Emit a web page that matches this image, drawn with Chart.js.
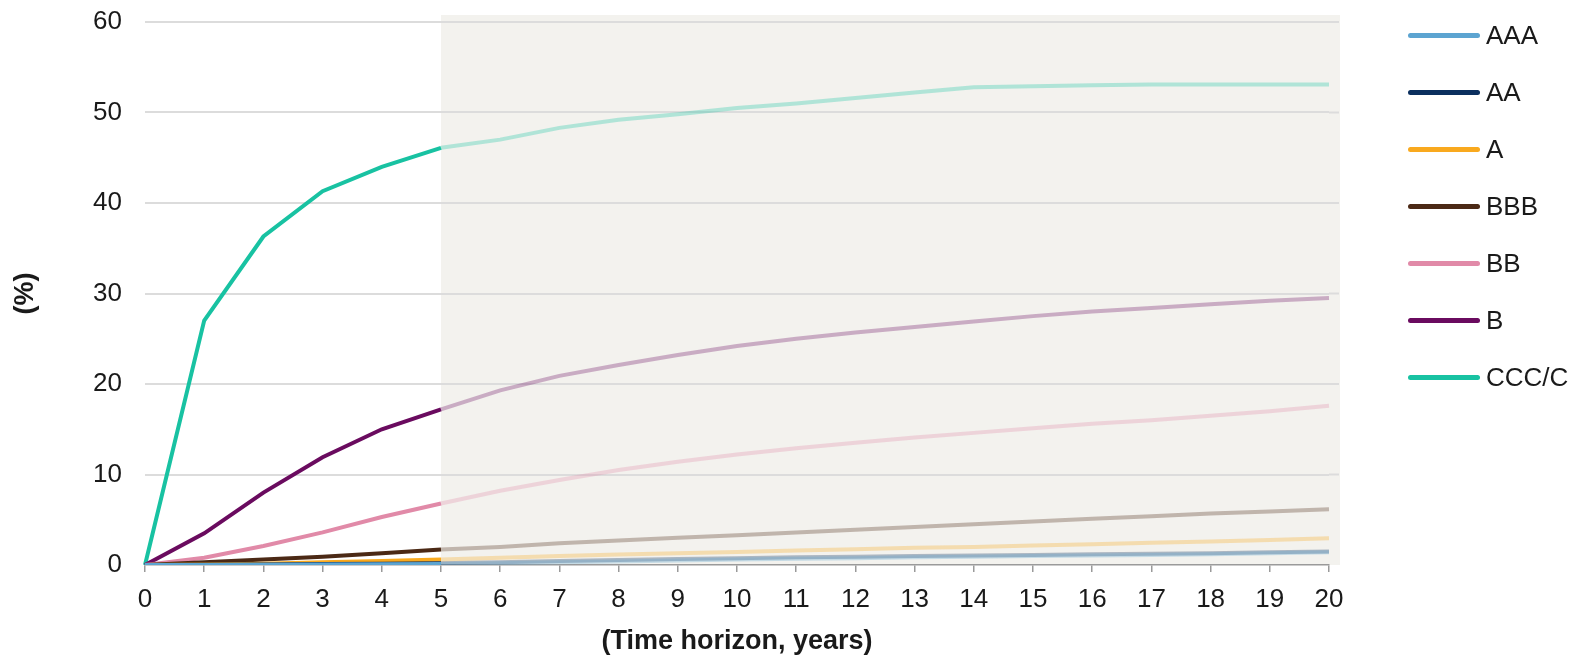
<!DOCTYPE html>
<html>
<head>
<meta charset="utf-8">
<script src="https://cdn.jsdelivr.net/npm/chart.js@4/dist/chart.umd.min.js"></script>
<style>
  body { margin: 0; background: #fff; }
  #wrap { position: relative; width: 1587px; height: 655px; overflow: hidden; }
  #legend { position: absolute; left: 1408px; top: 0; font-family: 'Liberation Sans', Arial, sans-serif; font-size: 26px; color: #1a1a1a; }
  .item { position: absolute; left: 0; height: 30px; display: flex; align-items: center; white-space: nowrap; }
  .swatch { width: 72px; height: 5px; border-radius: 3px; margin-right: 6px; }
</style>
</head>
<body>
<div id="wrap">
  <canvas id="chart" width="1587" height="655"></canvas>
  <div id="legend"></div>
</div>
<script>
const years = ['0','1','2','3','4','5','6','7','8','9','10','11','12','13','14','15','16','17','18','19','20'];
const ratings = ['AAA', 'AA', 'A', 'BBB', 'BB', 'B', 'CCC/C'];

const aaa = [0, 0, 0.03, 0.05, 0.08, 0.1, 0.2, 0.3, 0.4, 0.5, 0.6, 0.7, 0.75, 0.85, 0.9, 1.0, 1.05, 1.1, 1.2, 1.3, 1.4];
const aa = [0, 0.02, 0.05, 0.1, 0.15, 0.2, 0.3, 0.45, 0.55, 0.65, 0.75, 0.85, 0.9, 1.0, 1.05, 1.1, 1.2, 1.25, 1.3, 1.4, 1.5];
const a = [0, 0.05, 0.15, 0.3, 0.45, 0.6, 0.8, 1.0, 1.15, 1.3, 1.45, 1.6, 1.75, 1.9, 2.0, 2.15, 2.3, 2.45, 2.6, 2.75, 2.95];
const bbb = [0, 0.3, 0.6, 0.9, 1.3, 1.7, 2.0, 2.4, 2.7, 3.0, 3.3, 3.6, 3.9, 4.2, 4.5, 4.8, 5.1, 5.4, 5.7, 5.9, 6.15];
const bb = [0, 0.8, 2.1, 3.6, 5.3, 6.8, 8.2, 9.4, 10.5, 11.4, 12.2, 12.9, 13.5, 14.1, 14.6, 15.1, 15.6, 16.0, 16.5, 17.0, 17.6];
const b = [0, 3.5, 8.0, 11.9, 15.0, 17.2, 19.3, 20.9, 22.1, 23.2, 24.2, 25.0, 25.7, 26.3, 26.9, 27.5, 28.0, 28.4, 28.8, 29.2, 29.5];
const ccc = [0, 27.0, 36.3, 41.3, 44.0, 46.1, 47.0, 48.3, 49.2, 49.8, 50.5, 51.0, 51.6, 52.2, 52.8, 52.9, 53.0, 53.1, 53.1, 53.1, 53.1];

const seriesValues = [aaa, aa, a, bbb, bb, b, ccc];
const colors = ['#5ca4d1', '#0b2f5e', '#f9a91e', '#4b2915', '#e18aa8', '#6a0b5f', '#18c2a2'];
const fadeStart = 5;

function fade(hex, alpha) {
    const r = parseInt(hex.slice(1, 3), 16);
    const g = parseInt(hex.slice(3, 5), 16);
    const bl = parseInt(hex.slice(5, 7), 16);
    return `rgba(${r}, ${g}, ${bl}, ${alpha})`;
}

const datasets = ratings.map((name, i) => ({
    label: name,
    data: seriesValues[i],
    borderColor: colors[i],
    borderWidth: 4,
    pointRadius: 0,
    tension: 0,
    fill: false,
    segment: {
        borderColor: ctx => ctx.p0DataIndex >= fadeStart ? fade(colors[i], 0.3) : undefined
    }
}));

// grey background behind the projected part (year 5 onwards)
const shadePlugin = {
    id: 'shade',
    beforeDraw(chart) {
        const { ctx, chartArea, scales } = chart;
        const x0 = scales.x.getPixelForValue(fadeStart);
        ctx.save();
        ctx.fillStyle = '#f3f2ee';
        ctx.fillRect(x0, chartArea.top - 7, chartArea.right + 11 - x0, chartArea.bottom - chartArea.top + 7);
        ctx.restore();
    },
    beforeDatasetsDraw(chart) {
        // gridlines run a little past the last year
        const { ctx, chartArea, scales } = chart;
        ctx.save();
        ctx.strokeStyle = '#dcdcdc';
        ctx.lineWidth = 2;
        scales.y.ticks.forEach(t => {
            if (t.value === 0) return;
            const y = scales.y.getPixelForValue(t.value);
            ctx.beginPath();
            ctx.moveTo(chartArea.right, y);
            ctx.lineTo(chartArea.right + 10, y);
            ctx.stroke();
        });
        ctx.restore();
    }
};

Chart.defaults.font.family = "'Liberation Sans', Arial, sans-serif";
Chart.defaults.color = '#1a1a1a';

new Chart(document.getElementById('chart'), {
    type: 'line',
    data: { labels: years, datasets: datasets },
    options: {
        responsive: false,
        animation: false,
        layout: { padding: { top: 22, right: 258, left: 0, bottom: 0 } },
        plugins: {
            legend: { display: false },
            tooltip: { enabled: false }
        },
        scales: {
            x: {
                afterFit(scale) { scale.height = 90; },
                grid: { drawOnChartArea: false, drawTicks: true, tickLength: 7, color: '#9a9a9a', lineWidth: 1.5 },
                border: { display: true, color: '#9a9a9a', width: 1.5 },
                ticks: { font: { size: 26 }, padding: 12, maxRotation: 0, autoSkip: false },
                title: {
                    display: true,
                    text: '(Time horizon, years)',
                    font: { size: 27, weight: 'bold', lineHeight: 1 },
                    padding: { top: 0, bottom: 0 }
                }
            },
            y: {
                min: 0,
                max: 60,
                afterFit(scale) { scale.width = 145; },
                ticks: { stepSize: 10, font: { size: 26 }, padding: 0 },
                grid: {
                    drawTicks: true,
                    tickLength: 23,
                    tickColor: 'rgba(0,0,0,0)',
                    color: ctx => ctx.tick && ctx.tick.value === 0 ? 'rgba(0,0,0,0)' : '#dcdcdc',
                    lineWidth: 2
                },
                border: { display: false },
                title: {
                    display: true,
                    text: '(%)',
                    font: { size: 27, weight: 'bold', lineHeight: 1 },
                    padding: { top: 12, bottom: 0 }
                }
            }
        }
    },
    plugins: [shadePlugin]
});

// legend on the right
const legendRows = [35, 92, 149, 206, 263, 320, 377];
const legend = document.getElementById('legend');
ratings.forEach((name, i) => {
    const item = document.createElement('div');
    item.className = 'item';
    item.style.top = (legendRows[i] - 15) + 'px';
    const sw = document.createElement('span');
    sw.className = 'swatch';
    sw.style.background = colors[i];
    const txt = document.createElement('span');
    txt.textContent = name;
    item.appendChild(sw);
    item.appendChild(txt);
    legend.appendChild(item);
});
</script>
</body>
</html>
